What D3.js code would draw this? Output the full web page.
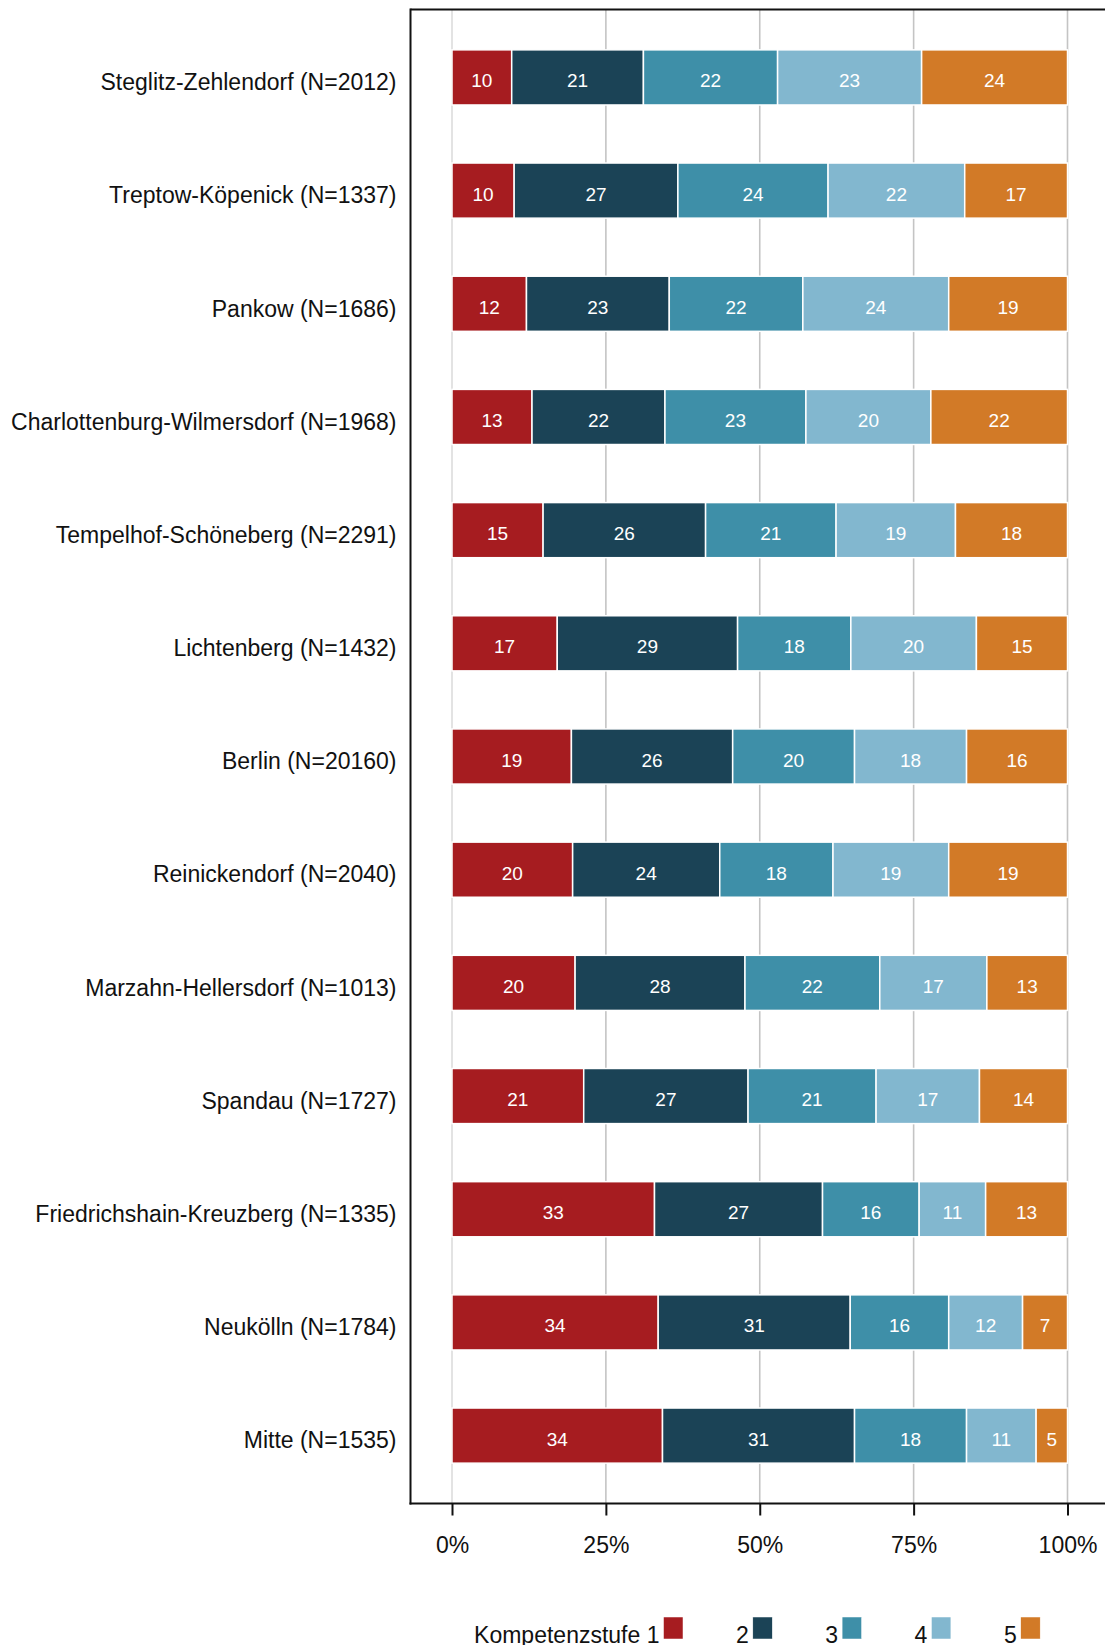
<!DOCTYPE html>
<html>
<head>
<meta charset="utf-8">
<script src="https://cdn.jsdelivr.net/npm/d3@7"></script>
<style>
  html, body { margin: 0; padding: 0; background: #fff; }
  svg { display: block; font-family: "Liberation Sans", Arial, Helvetica, sans-serif; }
</style>
</head>
<body>
<svg id="chart" width="1105" height="1645"></svg>
<script>
// ---- data ----
const districts = [
  "Steglitz-Zehlendorf (N=2012)",
  "Treptow-Köpenick (N=1337)",
  "Pankow (N=1686)",
  "Charlottenburg-Wilmersdorf (N=1968)",
  "Tempelhof-Schöneberg (N=2291)",
  "Lichtenberg (N=1432)",
  "Berlin (N=20160)",
  "Reinickendorf (N=2040)",
  "Marzahn-Hellersdorf (N=1013)",
  "Spandau (N=1727)",
  "Friedrichshain-Kreuzberg (N=1335)",
  "Neukölln (N=1784)",
  "Mitte (N=1535)"
];
const levels = ["1", "2", "3", "4", "5"];
const level1 = [9.7, 10.1, 12.1, 13.0, 14.8, 17.1, 19.4, 19.6, 20.0, 21.4, 32.9, 33.5, 34.2];
const level2 = [21.4, 26.6, 23.2, 21.6, 26.4, 29.3, 26.2, 23.9, 27.6, 26.7, 27.3, 31.2, 31.2];
const level3 = [21.8, 24.4, 21.7, 22.9, 21.2, 18.4, 19.8, 18.4, 21.9, 20.8, 15.7, 16.0, 18.2];
const level4 = [23.4, 22.2, 23.7, 20.3, 19.4, 20.4, 18.2, 18.8, 17.4, 16.8, 10.8, 12.0, 11.3];
const level5 = [23.7, 16.7, 19.3, 22.2, 18.2, 14.8, 16.4, 19.3, 13.1, 14.3, 13.3, 7.3, 5.1];
const xTicks = [0, 25, 50, 75, 100];
const xTickLabels = ["0%", "25%", "50%", "75%", "100%"];
const legendTitle = "Kompetenzstufe";
const colors = ["#A61C20", "#1B4356", "#3E8FA8", "#82B7CF", "#D27A27"];

// ---- build table ----
const series = [level1, level2, level3, level4, level5];
const rows = districts.map((d, i) => {
  const r = { district: d };
  levels.forEach((l, j) => { r[l] = series[j][i]; });
  return r;
});
const stacked = d3.stack().keys(levels)(rows);

// ---- layout ----
const svg = d3.select("#chart");
const W = 1105, H = 1645;
const plotLeft = 410.5, plotTop = 9.5, plotBottom = 1503.5;
const x = d3.scaleLinear().domain([0, 100]).range([452, 1067.5]);
const y = d3.scalePoint().domain(districts).range([plotTop, plotBottom]).padding(0.6);
const barH = y.step() * 0.487;
const FS = 23;

// gridlines
svg.append("g").selectAll("line").data(xTicks).join("line")
  .attr("x1", d => x(d)).attr("x2", d => x(d))
  .attr("y1", plotTop).attr("y2", plotBottom)
  .attr("stroke", d => d === 0 ? "#DCDCDC" : "#C4C4C4")
  .attr("stroke-width", 1.6);

// bars
const gBars = svg.append("g");
stacked.forEach((s, j) => {
  const g = gBars.append("g").attr("fill", colors[j]);
  g.selectAll("rect").data(s).join("rect")
    .attr("x", d => x(d[0]))
    .attr("width", d => x(d[1]) - x(d[0]))
    .attr("y", d => y(d.data.district) - barH / 2)
    .attr("height", barH)
    .attr("stroke", "#fff")
    .attr("stroke-width", 1.5);
  g.selectAll("text").data(s).join("text")
    .attr("x", d => (x(d[0]) + x(d[1])) / 2)
    .attr("y", d => y(d.data.district) + 10)
    .attr("text-anchor", "middle")
    .attr("fill", "#fff")
    .attr("font-size", 19)
    .text(d => Math.round(d[1] - d[0]));
});

// axes frame
svg.append("line").attr("x1", plotLeft).attr("x2", W).attr("y1", plotTop).attr("y2", plotTop)
  .attr("stroke", "#111").attr("stroke-width", 2);
svg.append("line").attr("x1", plotLeft).attr("x2", plotLeft).attr("y1", plotTop - 1).attr("y2", plotBottom + 1)
  .attr("stroke", "#111").attr("stroke-width", 2);

// x axis
const xAxis = d3.axisBottom(x).tickValues(xTicks)
  .tickFormat((d, i) => xTickLabels[i]).tickSize(12).tickPadding(21.5);
const gx = svg.append("g").attr("transform", `translate(0,${plotBottom})`).call(xAxis);
gx.select(".domain").remove();
gx.append("line").attr("x1", plotLeft - 1).attr("x2", W).attr("y1", 0).attr("y2", 0)
  .attr("stroke", "#111").attr("stroke-width", 2);
gx.selectAll(".tick line").attr("stroke", "#111").attr("stroke-width", 2);
gx.selectAll(".tick text").attr("font-size", FS).attr("fill", "#111")
  .attr("font-family", "Liberation Sans, Arial, sans-serif");

// y labels (no ticks)
svg.append("g").selectAll("text").data(districts).join("text")
  .attr("x", 396.5)
  .attr("y", d => y(d) + 12.8)
  .attr("text-anchor", "end")
  .attr("font-size", FS)
  .attr("fill", "#111")
  .text(d => d);

// legend
const legY = 1617, swW = 19.5, swH = 22;
const legX0 = 663.5, legStep = 89.3;
const gl = svg.append("g");
gl.append("text").attr("x", legX0 - 4 - 12.8 - 6.4).attr("y", 1643)
  .attr("text-anchor", "end").attr("font-size", FS).attr("fill", "#111").text(legendTitle);
levels.forEach((l, i) => {
  const sx = legX0 + i * legStep;
  gl.append("rect").attr("x", sx).attr("y", legY).attr("width", swW).attr("height", swH)
    .attr("fill", colors[i]).attr("stroke", "#fff").attr("stroke-width", 0.5);
  gl.append("text").attr("x", sx - 4).attr("y", 1643).attr("text-anchor", "end")
    .attr("font-size", FS).attr("fill", "#111").text(l);
});
</script>
</body>
</html>
